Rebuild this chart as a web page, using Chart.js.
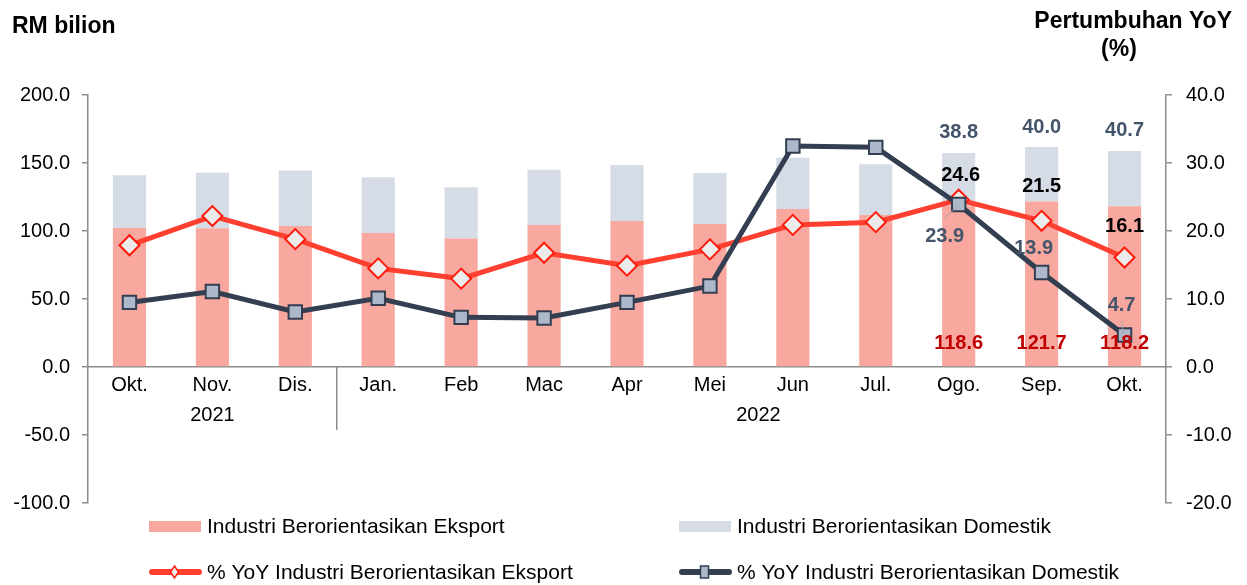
<!DOCTYPE html>
<html>
<head>
<meta charset="utf-8">
<script src="https://cdn.jsdelivr.net/npm/chart.js@4.4.0/dist/chart.umd.min.js"></script>
<style>
  html, body { margin: 0; padding: 0; background: #fff; }
  #wrap { position: relative; width: 1247px; height: 585px; }
</style>
</head>
<body>
<div id="wrap"><canvas id="chart" width="1247" height="585"></canvas></div>
<script>
// categories
const months = ['Okt.', 'Nov.', 'Dis.', 'Jan.', 'Feb', 'Mac', 'Apr', 'Mei', 'Jun', 'Jul.', 'Ogo.', 'Sep.', 'Okt.'];
const years = [
  { label: '2021', from: 0, to: 2 },
  { label: '2022', from: 3, to: 12 }
];

// RM bilion (stacked bars)
const exportVal   = [102.2, 102.0, 103.7, 98.5, 94.4, 104.4, 107.4, 105.1, 116.2, 111.8, 118.6, 121.7, 118.2];
const domesticVal = [38.8, 40.9, 40.7, 41.0, 37.7, 40.7, 41.1, 37.5, 37.7, 37.2, 38.8, 40.0, 40.7];

// % YoY (right axis)
const exportYoY   = [17.9, 22.2, 18.8, 14.5, 13.0, 16.8, 14.9, 17.3, 20.9, 21.3, 24.6, 21.5, 16.1];
const domesticYoY = [9.5, 11.1, 8.1, 10.1, 7.3, 7.2, 9.5, 11.9, 32.5, 32.3, 23.9, 13.9, 4.7];

// only the last three months carry value labels
const labelFrom = 10;

const FONT = '"Liberation Sans", Arial, sans-serif';
const axisGrey = '#8c8c8c';
const pink = '#F9A8A0';
const lightBlue = '#D6DCE5';
const red = '#FF3F2F';
const navy = '#333F50';

// label offsets (px) for the value labels, relative to the mark
const yoyExpOff = [[2, -24], [0, -34], [0, -31]];
const yoyDomOff = [[-14, 32], [-8, -24], [-3, -30]];

const extras = {
  id: 'extras',
  afterDatasetsDraw(chart) {
    const ctx = chart.ctx;
    const y = chart.scales.y;
    const x = chart.scales.x;
    const zero = y.getPixelForValue(0);
    ctx.save();

    // separator between years and year labels
    ctx.strokeStyle = axisGrey;
    ctx.lineWidth = 1.5;
    const sep = (x.getPixelForValue(2) + x.getPixelForValue(3)) / 2;
    ctx.beginPath();
    ctx.moveTo(sep, zero);
    ctx.lineTo(sep, zero + 63);
    ctx.stroke();

    ctx.fillStyle = '#000';
    ctx.font = '20px ' + FONT;
    ctx.textAlign = 'center';
    ctx.textBaseline = 'middle';
    ctx.fillText(years[0].label, x.getPixelForValue(1), zero + 48);
    const g2 = (sep + chart.chartArea.right) / 2 + 7;
    ctx.fillText(years[1].label, g2, zero + 48);

    // value labels
    const mExp = chart.getDatasetMeta(0);
    const mDom = chart.getDatasetMeta(1);
    const mYE = chart.getDatasetMeta(2);
    const mYD = chart.getDatasetMeta(3);
    ctx.font = 'bold 20px ' + FONT;
    for (let i = labelFrom; i < months.length; i++) {
      const k = i - labelFrom;
      const bx = mExp.data[i].x;
      ctx.fillStyle = '#C00000';
      ctx.fillText(exportVal[i].toFixed(1), bx, zero - 24);
      ctx.fillStyle = '#44546A';
      ctx.fillText(domesticVal[i].toFixed(1), bx, mDom.data[i].y - 20);

      const pe = mYE.data[i];
      ctx.fillStyle = '#000';
      ctx.fillText(exportYoY[i].toFixed(1), pe.x + yoyExpOff[k][0], pe.y + yoyExpOff[k][1]);

      const pd = mYD.data[i];
      ctx.fillStyle = '#44546A';
      ctx.fillText(domesticYoY[i].toFixed(1), pd.x + yoyDomOff[k][0], pd.y + yoyDomOff[k][1]);
    }
    // leader lines
    ctx.strokeStyle = '#A6A6A6';
    ctx.lineWidth = 1;
    const p0 = mYD.data[10];
    ctx.beginPath(); ctx.moveTo(p0.x - 1, p0.y + 1); ctx.lineTo(p0.x - 14, p0.y + 14); ctx.stroke();
    const p2 = mYD.data[12];
    ctx.beginPath(); ctx.moveTo(p2.x - 1, p2.y - 1); ctx.lineTo(p2.x - 3, p2.y - 14); ctx.stroke();

    ctx.restore();
  },
  afterDraw(chart) {
    const ctx = chart.ctx;
    ctx.save();
    // axis titles
    ctx.fillStyle = '#000';
    ctx.font = 'bold 23px ' + FONT;
    ctx.textBaseline = 'middle';
    ctx.textAlign = 'left';
    ctx.fillText('RM bilion', 12, 27);
    ctx.textAlign = 'right';
    ctx.fillText('Pertumbuhan YoY', 1232, 22);
    ctx.textAlign = 'center';
    ctx.fillText('(%)', 1119, 50);

    // legend (2 x 2)
    const ds = chart.data.datasets;
    const cols = [149, 679];
    const rows = [526, 572];
    ctx.font = '21px ' + FONT;
    ctx.textAlign = 'left';
    for (let i = 0; i < 4; i++) {
      const cx = cols[i % 2];
      const cy = rows[Math.floor(i / 2)];
      const d = ds[i];
      if (d.type === 'bar') {
        ctx.fillStyle = d.backgroundColor;
        ctx.fillRect(cx, cy - 5, 52, 11);
      } else {
        ctx.strokeStyle = d.borderColor;
        ctx.lineWidth = 6;
        ctx.lineCap = 'round';
        ctx.beginPath(); ctx.moveTo(cx + 3, cy); ctx.lineTo(cx + 50, cy); ctx.stroke();
        ctx.lineCap = 'butt';
        ctx.fillStyle = d.pointBackgroundColor;
        ctx.strokeStyle = d.pointBorderColor;
        ctx.lineWidth = 1.5;
        ctx.beginPath();
        if (d.pointStyle === 'rectRot') {
          ctx.moveTo(cx + 25.5, cy - 6); ctx.lineTo(cx + 29.5, cy); ctx.lineTo(cx + 25.5, cy + 6); ctx.lineTo(cx + 21.5, cy);
        } else {
          ctx.rect(cx + 21.5, cy - 6, 8, 12);
        }
        ctx.closePath(); ctx.fill(); ctx.stroke();
      }
      ctx.fillStyle = '#000';
      ctx.fillText(d.label, cx + 58, cy + 1);
    }
    ctx.restore();
  }
};

new Chart(document.getElementById('chart'), {
  data: {
    labels: months,
    datasets: [
      {
        type: 'bar', label: 'Industri Berorientasikan Eksport', data: exportVal,
        backgroundColor: pink, yAxisID: 'y', order: 2, stack: 's',
        barPercentage: 0.4, categoryPercentage: 1
      },
      {
        type: 'bar', label: 'Industri Berorientasikan Domestik', data: domesticVal,
        backgroundColor: lightBlue, yAxisID: 'y', order: 3, stack: 's',
        barPercentage: 0.4, categoryPercentage: 1
      },
      {
        type: 'line', label: '% YoY Industri Berorientasikan Eksport', data: exportYoY,
        yAxisID: 'y1', order: 1, borderColor: red, borderWidth: 5,
        pointStyle: 'rectRot', pointRadius: 10, pointBorderWidth: 2,
        pointBackgroundColor: '#EBEBEB', pointBorderColor: '#FF1A0A', tension: 0
      },
      {
        type: 'line', label: '% YoY Industri Berorientasikan Domestik', data: domesticYoY,
        yAxisID: 'y1', order: 0, borderColor: navy, borderWidth: 5,
        pointStyle: 'rect', pointRadius: 9.5, pointBorderWidth: 2,
        pointBackgroundColor: '#ADB9CA', pointBorderColor: navy, tension: 0
      }
    ]
  },
  options: {
    responsive: false,
    animation: false,
    layout: { padding: { top: 95, bottom: 82, left: 0, right: 0 } },
    plugins: { legend: { display: false }, tooltip: { enabled: false } },
    scales: {
      x: {
        position: { y: 0 },
        stacked: true,
        grid: { display: false, tickLength: 0 },
        border: { display: true, color: axisGrey, width: 1.5 },
        ticks: { color: '#000', font: { family: FONT, size: 20 }, padding: 6, maxRotation: 0, autoSkip: false }
      },
      y: {
        position: 'left', stacked: true, min: -100, max: 200,
        afterFit(s) { s.width = 88; },
        grid: { drawOnChartArea: false, drawTicks: true, tickLength: 6, color: axisGrey, lineWidth: 1.5 },
        border: { display: true, color: axisGrey, width: 1.5 },
        ticks: {
          stepSize: 50, padding: 12, color: '#000', font: { family: FONT, size: 20 },
          callback: v => v.toFixed(1)
        }
      },
      y1: {
        position: 'right', min: -20, max: 40,
        afterFit(s) { s.width = 81; },
        grid: { drawOnChartArea: false, drawTicks: true, tickLength: 6, color: axisGrey, lineWidth: 1.5 },
        border: { display: true, color: axisGrey, width: 1.5 },
        ticks: {
          stepSize: 10, padding: 14, color: '#000', font: { family: FONT, size: 20 },
          callback: v => v.toFixed(1)
        }
      }
    }
  },
  plugins: [extras]
});
</script>
</body>
</html>
